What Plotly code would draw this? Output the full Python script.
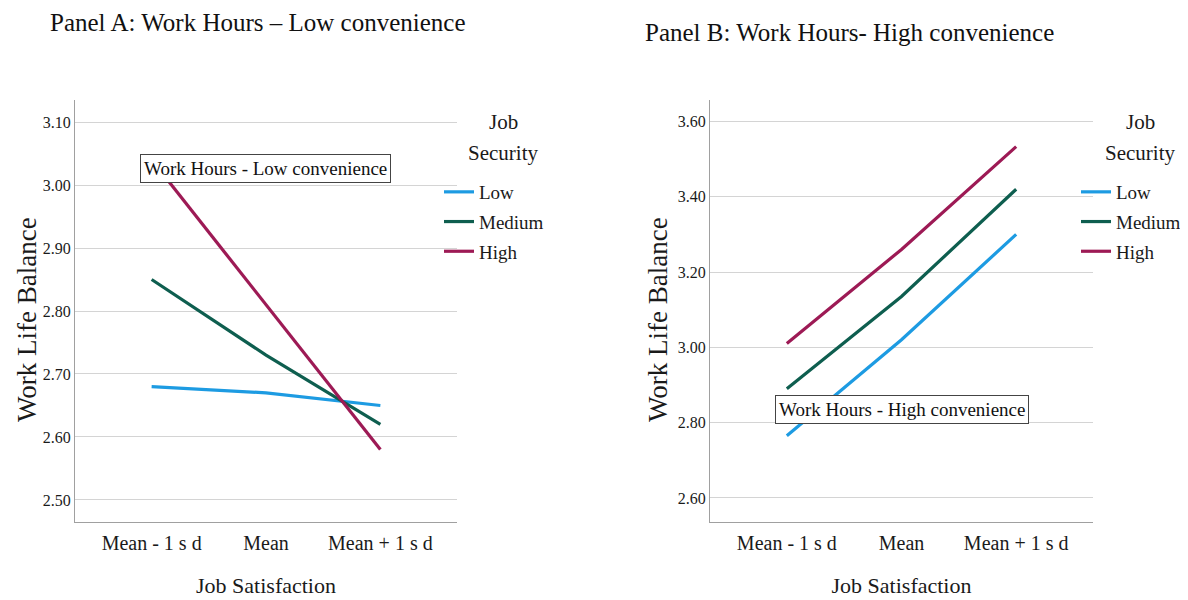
import plotly.graph_objects as go

categories = ["Mean - 1 s d", "Mean", "Mean + 1 s d"]
series_names = ["Low", "Medium", "High"]

panel_a_low = [2.68, 2.67, 2.65]
panel_a_medium = [2.85, 2.73, 2.62]
panel_a_high = [3.04, 2.81, 2.58]

panel_b_low = [2.765, 3.02, 3.30]
panel_b_medium = [2.89, 3.135, 3.42]
panel_b_high = [3.01, 3.26, 3.533]

panel_a_ticks = [2.50, 2.60, 2.70, 2.80, 2.90, 3.00, 3.10]
panel_b_ticks = [2.60, 2.80, 3.00, 3.20, 3.40, 3.60]

colors = {"Low": "#1d9be2", "Medium": "#0e5e4f", "High": "#9d1a55"}
FONT = "Liberation Serif"
# page has an 8px body margin; figure fills the rest of the 1188x600 window
OFF = 8
W, H = 1188 - OFF, 600 - OFF


def fx(px):
    return (px - OFF) / W


def fy(py):
    return 1 - (py - OFF) / H


fig = go.Figure()

for name, vals in zip(series_names, [panel_a_low, panel_a_medium, panel_a_high]):
    fig.add_trace(go.Scatter(x=categories, y=vals, mode="lines", name=name,
                             line=dict(color=colors[name], width=3.2),
                             xaxis="x", yaxis="y", legend="legend",
                             legendgroup="A" + name))
for name, vals in zip(series_names, [panel_b_low, panel_b_medium, panel_b_high]):
    fig.add_trace(go.Scatter(x=categories, y=vals, mode="lines", name=name,
                             line=dict(color=colors[name], width=3.2),
                             xaxis="x2", yaxis="y2", legend="legend2",
                             legendgroup="B" + name))

ydom = [fy(522), fy(100)]
xdomA = [fx(75), fx(457)]
xdomB = [fx(710), fx(1093)]

axis_common = dict(showline=True, linecolor="#a0a0a0", linewidth=1,
                   ticks="", zeroline=False)
xcommon = dict(axis_common, type="category", range=[-0.67, 2.67], showgrid=False,
               tickfont=dict(family=FONT, size=20, color="#1a1a1a"),
               ticklabelstandoff=3,
               title=dict(text="Job Satisfaction", font=dict(family=FONT, size=22, color="#1a1a1a"),
                          standoff=24))
ycommon = dict(axis_common, showgrid=True, gridcolor="#d4d4d4", gridwidth=1,
               tickfont=dict(family=FONT, size=16, color="#1a1a1a"), tickformat=".2f")

legend_common = dict(orientation="v", xanchor="left", yanchor="top",
                     bgcolor="rgba(0,0,0,0)", borderwidth=0,
                     font=dict(family=FONT, size=19, color="#1a1a1a"),
                     tracegroupgap=2, itemwidth=30, traceorder="grouped")

fig.update_layout(
    width=W, height=H,
    margin=dict(l=0, r=0, t=0, b=0),
    paper_bgcolor="white", plot_bgcolor="white",
    showlegend=True,
    xaxis=dict(xcommon, domain=xdomA, anchor="y"),
    yaxis=dict(ycommon, domain=ydom, anchor="x", range=[2.465, 3.135], tickvals=panel_a_ticks),
    xaxis2=dict(xcommon, domain=xdomB, anchor="y2"),
    yaxis2=dict(ycommon, domain=ydom, anchor="x2", range=[2.536, 3.657], tickvals=panel_b_ticks),
    legend=dict(legend_common, x=fx(439), y=fy(173)),
    legend2=dict(legend_common, x=fx(1076), y=fy(173)),
)

ann = []
ann.append(dict(text="Panel A: Work Hours \u2013 Low convenience", xref="paper", yref="paper",
                x=fx(48), y=fy(22), xanchor="left", yanchor="middle", showarrow=False,
                font=dict(family=FONT, size=25, color="#111111")))
ann.append(dict(text="Panel B: Work Hours- High convenience", xref="paper", yref="paper",
                x=fx(643), y=fy(32), xanchor="left", yanchor="middle", showarrow=False,
                font=dict(family=FONT, size=25, color="#111111")))
for xc in (27, 658):
    ann.append(dict(text="Work Life Balance", xref="paper", yref="paper",
                    x=fx(xc), y=fy(320), xanchor="center", yanchor="middle",
                    textangle=-90, showarrow=False,
                    font=dict(family=FONT, size=27, color="#1a1a1a")))
for xc in (503, 1140):
    ann.append(dict(text="Job", xref="paper", yref="paper", x=fx(xc), y=fy(122),
                    xanchor="center", yanchor="middle", showarrow=False,
                    font=dict(family=FONT, size=21, color="#1a1a1a")))
    ann.append(dict(text="Security", xref="paper", yref="paper", x=fx(xc), y=fy(153),
                    xanchor="center", yanchor="middle", showarrow=False,
                    font=dict(family=FONT, size=21, color="#1a1a1a")))
ann.append(dict(text="Work Hours - Low convenience", xref="x domain", yref="y domain",
                x=(265 - 75) / 382, y=(522 - 169) / 422, xanchor="center", yanchor="middle",
                showarrow=False, bgcolor="white", bordercolor="#444444", borderwidth=1,
                borderpad=3, font=dict(family=FONT, size=19, color="#111111")))
ann.append(dict(text="Work Hours - High convenience", xref="x2 domain", yref="y2 domain",
                x=(902 - 710) / 383, y=(522 - 410) / 422, xanchor="center", yanchor="middle",
                showarrow=False, bgcolor="white", bordercolor="#444444", borderwidth=1,
                borderpad=3, font=dict(family=FONT, size=19, color="#111111")))
fig.update_layout(annotations=ann)

fig.write_html("out.html")
